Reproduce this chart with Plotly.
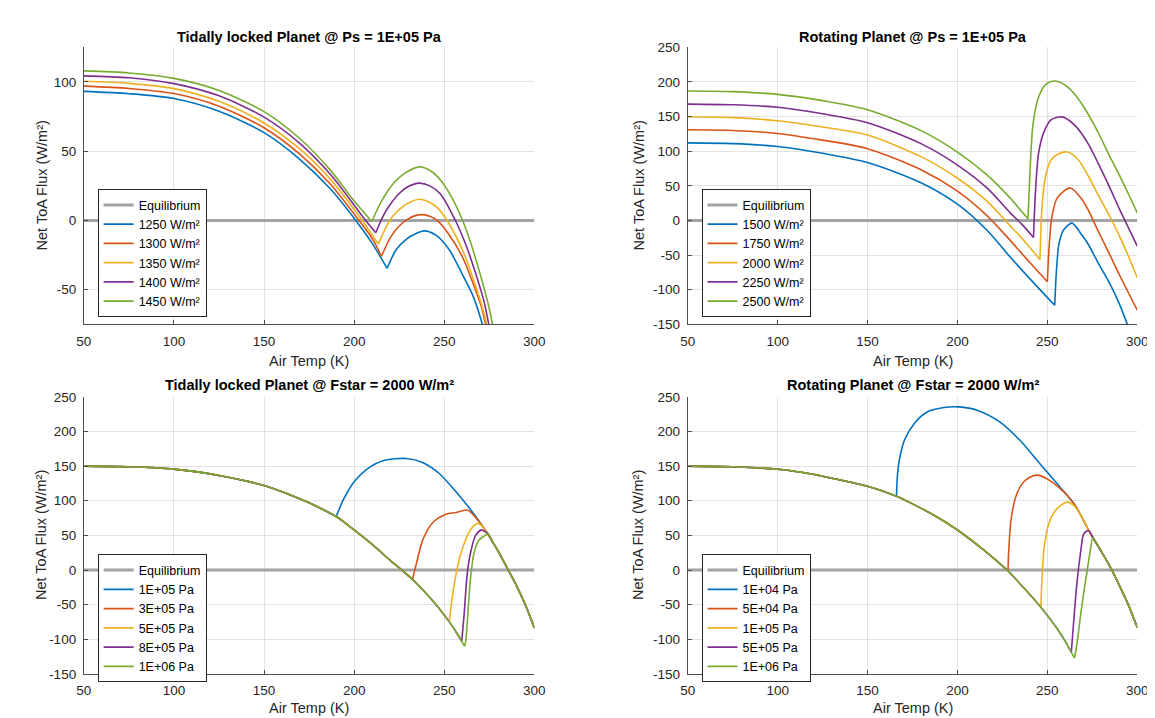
import plotly.graph_objects as go

# ---------------- data ----------------
x_tick_vals = [50, 100, 150, 200, 250, 300]
x_tick_text = ["50", "100", "150", "200", "250", "300"]
y_tick_vals_tl = [-50, 0, 50, 100]
y_tick_text_tl = ["-50", "0", "50", "100"]
y_tick_vals = [-150, -100, -50, 0, 50, 100, 150, 200, 250]
y_tick_text = ["-150", "-100", "-50", "0", "50", "100", "150", "200", "250"]

equilibrium_T = [50, 300]
equilibrium_F = [0, 0]

# --- Tidally locked planet @ Ps = 1E+05 Pa (top-left) ---
tl_names = ["1250 W/m²", "1300 W/m²", "1350 W/m²", "1400 W/m²", "1450 W/m²"]
tl_1250_T = [50, 75, 100, 125, 150, 170, 187, 200.9, 210, 218.3, 223.4, 228.9, 234.4, 238.9, 245.4, 252.7, 260, 265.5, 270.5, 273]
tl_1250_F = [93.2, 91.5, 88, 78.8, 63.4, 44, 22.5, 0, -16.5, -34.5, -21, -13.6, -9.4, -7.5, -10.6, -21, -38.7, -53, -72, -85]
tl_1300_T = [50, 75, 100, 125, 150, 170, 187, 202.7, 210, 215.2, 220, 225, 230, 234, 237.9, 242, 246.1, 252, 260, 267, 271, 274]
tl_1300_F = [97, 95.3, 91.6, 82.5, 66.9, 47.7, 26, 0, -13, -25.8, -12.5, -4, 1.2, 3.5, 4.2, 3, 0, -9, -26, -49, -64, -82]
tl_1350_T = [50, 75, 100, 125, 150, 170, 187, 204.5, 213.4, 218, 222, 227, 231.5, 236.1, 242, 246, 251.6, 260, 267, 272, 275]
tl_1350_F = [100.5, 99, 95.2, 86, 70.4, 51.5, 29.5, 0, -17.1, -4, 4, 10, 13.5, 15.3, 13, 9.5, 0, -21, -45.5, -66.8, -84]
tl_1400_T = [50, 75, 100, 125, 150, 170, 187, 206.4, 212, 216, 220, 225, 230, 236.1, 242, 248, 256.2, 262, 267, 272, 276]
tl_1400_F = [104.4, 103, 98.8, 90, 74.6, 55.5, 33, 0, -8.9, 3, 11.5, 19.5, 24.5, 27, 25, 19, 0, -17.5, -36.4, -58, -84]
tl_1450_T = [50, 75, 100, 125, 150, 170, 187, 200, 209.8, 214, 218, 222, 228, 236.1, 243, 248, 254, 260.2, 264, 268, 272, 275, 277.5]
tl_1450_F = [108, 106.5, 102.6, 93.9, 78.6, 59, 36, 14, -0.7, 11, 20, 27, 34, 38.7, 35.4, 29, 17, 0, -13.3, -30, -48.4, -63.5, -80]

# --- Rotating planet @ Ps = 1E+05 Pa (top-right) ---
tr_names = ["1500 W/m²", "1750 W/m²", "2000 W/m²", "2250 W/m²", "2500 W/m²"]
tr_1500_T = [50, 75, 100, 125, 150, 180, 200, 216.4, 229.1, 242, 254.1, 255, 256.5, 259.2, 263.7, 269.2, 272.9, 278, 284.3, 290, 294.5, 296]
tr_1500_F = [112, 111, 106.9, 97, 83.8, 54.1, 23.5, -14, -52, -89, -122.4, -75, -33, -13, -3.8, -21, -35, -60, -89, -120, -150, -160]
tr_1750_T = [50, 75, 100, 125, 150, 180, 200, 216.4, 229.1, 240, 250, 251, 252.5, 255.6, 262.8, 269.2, 272.9, 278, 284.3, 290, 300]
tr_1750_F = [131, 130, 125.7, 116, 103.6, 72.9, 42.4, 7, -28, -60, -88.5, -37.6, 4.7, 33, 47, 30.6, 14.1, -14, -47, -78, -129.4]
tr_2000_T = [50, 75, 100, 125, 150, 180, 200, 216.4, 229.1, 238, 245.9, 247, 248.8, 251.9, 256, 261.4, 267.4, 272.9, 278, 285.9, 292, 300]
tr_2000_F = [149.7, 148.5, 144, 135, 123.3, 91.8, 61, 28, -7, -32, -56.5, 18.8, 61, 87, 96, 98.8, 87, 63.5, 38, 0, -33, -82.4]
tr_2250_T = [50, 75, 100, 125, 150, 180, 200, 216.4, 229.1, 236, 242.3, 243.4, 245.2, 248.3, 251.9, 258.3, 265.6, 272.9, 278, 284.3, 290, 295, 300]
tr_2250_F = [168, 167, 163.4, 154, 141.2, 110.6, 80, 47, 11.8, -6, -24.5, 42, 98.8, 129, 145, 149.6, 136.5, 110, 84, 50, 17, -10, -37]
tr_2500_T = [50, 75, 100, 125, 150, 180, 200, 216.4, 229.1, 239.2, 240.1, 241.9, 244.6, 248.3, 251, 254.6, 260.1, 265, 270, 275, 280, 285, 290, 295, 300]
tr_2500_F = [186.9, 186, 182, 173, 160, 129.4, 98.8, 65.9, 33, 2.4, 56, 136, 174, 194, 199.5, 201.4, 195, 183, 165, 143, 118, 91, 66, 39, 11]

# --- Tidally locked planet @ Fstar = 2000 W/m2 (bottom-left) ---
bl_names = ["1E+05 Pa", "3E+05 Pa", "5E+05 Pa", "8E+05 Pa", "1E+06 Pa"]
bl_base_T = [50, 75, 100, 125, 150, 165, 175, 190, 200, 210, 220, 226.4, 232.4, 240, 246.4, 252.8, 256, 259.7, 261.3]
bl_base_F = [150, 149, 145.7, 136.5, 122, 108, 97, 77.2, 58, 37, 14, 0, -13.6, -34, -53, -74.8, -87, -103, -110]
bl_1e5_T = [190, 194.5, 200, 207.3, 216.4, 229, 238.3, 247.4, 256.5, 263.8, 269.2]
bl_1e5_F = [77.2, 104, 127.5, 146, 158, 161, 155, 139, 113, 90, 71]
bl_3e5_T = [232.4, 234.6, 238.3, 243.7, 251, 256.5, 262.8, 267.4, 272.9]
bl_3e5_F = [-13.6, 10, 45, 68.7, 80.5, 83, 86.6, 76, 57]
bl_5e5_T = [252.8, 254.6, 257.4, 260.1, 263.8, 266.5, 268.9, 272]
bl_5e5_F = [-74.8, -37, 5, 31, 54.6, 64, 67.3, 60.7]
bl_8e5_T = [259.7, 261, 262.8, 264.7, 267.4, 270.7, 272.9]
bl_8e5_F = [-103, -65.4, -4, 26, 50, 58, 55]
bl_1e6_T = [261.3, 261.9, 263.3, 264.7, 266.5, 269.2, 272]
bl_1e6_F = [-110, -103, -56, -9, 24, 43, 48.5]
bl_tail_T = [274.3, 277, 280, 285.5, 290, 295, 300]
bl_tail_F = [52, 40, 27, 0, -22, -50, -83.5]

# --- Rotating planet @ Fstar = 2000 W/m2 (bottom-right) ---
br_names = ["1E+04 Pa", "5E+04 Pa", "1E+05 Pa", "5E+05 Pa", "1E+06 Pa"]
br_base_T = [50, 75, 100, 114, 125, 150, 166.1, 175, 187, 200, 214.4, 228.1, 237, 246.4, 255, 260, 263.3, 265.1]
br_base_F = [150, 149, 145.5, 140.8, 135.5, 120.9, 106.6, 95.5, 79, 57.8, 29.4, -1.4, -26, -53.6, -83, -103, -119, -127]
br_1e4_T = [166.1, 166.6, 167.9, 170.6, 176.1, 183.4, 192.5, 200.7, 210.8, 223.5, 234.5, 245.4, 256.4, 265.5, 270.5]
br_1e4_F = [106.6, 136, 162, 188, 212, 228.4, 234.6, 235.5, 230.8, 214, 188, 155, 121.8, 93, 70]
br_5e4_T = [228.1, 228.6, 229.9, 232.7, 236.3, 240, 244.5, 250, 256.4, 261, 265.5, 270.5]
br_5e4_F = [-1.4, 31.8, 74.4, 107.6, 125.6, 133.6, 137, 131.3, 119.4, 108, 93, 70]
br_1e5_T = [246.4, 246.9, 248.2, 250.9, 254.6, 261, 265.5, 270.5]
br_1e5_F = [-53.6, -20, 31.8, 67.3, 86.3, 98, 91, 70]
br_5e5_T = [263.3, 264, 266.4, 268.8, 270, 271.9]
br_5e5_F = [-119, -96, -20, 31.8, 50.7, 56.4]
br_1e6_T = [265.1, 266.5, 268.5, 270.5, 272.5, 274, 275.3]
br_1e6_F = [-127, -106, -65, -28, 5, 30, 46]
br_tail_T = [273, 275.3, 280, 285.9, 290, 295, 300]
br_tail_F = [57, 47, 27, 0, -22, -50, -83]

# ---------------- styling ----------------
COLORS = ["#0072BD", "#D95319", "#EDB120", "#7E2F8E", "#77AC30"]
EQ_COLOR = "#a3a3a3"
FONT = "Liberation Sans, Arial, sans-serif"
W, H = 1155, 718


def px_x(p):
    return p / W


def px_y(p):
    return 1 - p / H


def with_branch(base_T, base_F, br_T, br_F, tail_T, tail_F):
    T = [t for t in base_T if t < br_T[0]] + list(br_T)
    F = [f for t, f in zip(base_T, base_F) if t < br_T[0]] + list(br_F)
    T += [t for t in tail_T if t > br_T[-1]]
    F += [f for t, f in zip(tail_T, tail_F) if t > br_T[-1]]
    return T, F


def segmented(T, F):
    xs, ys = [], []
    for i in range(len(T)):
        xs.append(T[i]); ys.append(F[i])
        if 0 < i < len(T) - 1 and F[i] < F[i - 1] and F[i] < F[i + 1]:
            xs += [None, T[i]]; ys += [None, F[i]]
    return xs, ys


panels = [
    dict(ax="", leg="legend", names=tl_names,
         series=[(tl_1250_T, tl_1250_F), (tl_1300_T, tl_1300_F), (tl_1350_T, tl_1350_F),
                 (tl_1400_T, tl_1400_F), (tl_1450_T, tl_1450_F)]),
    dict(ax="2", leg="legend2", names=tr_names,
         series=[(tr_1500_T, tr_1500_F), (tr_1750_T, tr_1750_F), (tr_2000_T, tr_2000_F),
                 (tr_2250_T, tr_2250_F), (tr_2500_T, tr_2500_F)]),
    dict(ax="3", leg="legend3", names=bl_names,
         series=[with_branch(bl_base_T, bl_base_F, t, f, bl_tail_T, bl_tail_F) for t, f in
                 [(bl_1e5_T, bl_1e5_F), (bl_3e5_T, bl_3e5_F), (bl_5e5_T, bl_5e5_F),
                  (bl_8e5_T, bl_8e5_F), (bl_1e6_T, bl_1e6_F)]]),
    dict(ax="4", leg="legend4", names=br_names,
         series=[with_branch(br_base_T, br_base_F, t, f, br_tail_T, br_tail_F) for t, f in
                 [(br_1e4_T, br_1e4_F), (br_5e4_T, br_5e4_F), (br_1e5_T, br_1e5_F),
                  (br_5e5_T, br_5e5_F), (br_1e6_T, br_1e6_F)]]),
]

fig = go.Figure()
for p in panels:
    xa, ya = "x" + p["ax"], "y" + p["ax"]
    fig.add_trace(go.Scatter(x=equilibrium_T, y=equilibrium_F, mode="lines", name="Equilibrium",
                             line=dict(color=EQ_COLOR, width=3), xaxis=xa, yaxis=ya,
                             legend=p["leg"], hoverinfo="skip"))
    for (T, F), nm, c in zip(p["series"], p["names"], COLORS):
        xs, ys = segmented(T, F)
        fig.add_trace(go.Scatter(x=xs, y=ys, mode="lines", name=nm,
                                 line=dict(color=c, width=1.6, shape="spline", smoothing=0.8),
                                 connectgaps=False, xaxis=xa, yaxis=ya, legend=p["leg"]))

# axes geometry (pixels)
LEFT = (69, 527)
RIGHT = (683, 1140)
TOP = (33, 316)
BOTTOM = (390, 673)

axis_common = dict(showgrid=True, gridcolor="#e2e2e2", gridwidth=1, zeroline=False,
                   showline=True, linecolor="#4d4d4d", linewidth=1, ticks="inside",
                   ticklen=4, tickcolor="#4d4d4d", mirror=False,
                   tickfont=dict(family=FONT, size=13.5, color="#262626"))

geo = {"": (LEFT, TOP), "2": (RIGHT, TOP), "3": (LEFT, BOTTOM), "4": (RIGHT, BOTTOM)}
layout_axes = {}
for k, (hx, vy) in geo.items():
    layout_axes["xaxis" + k] = dict(axis_common, domain=[px_x(hx[0]), px_x(hx[1])], range=[50, 300],
                                    tickvals=x_tick_vals, ticktext=x_tick_text,
                                    anchor="y" + k, ticklabelstandoff=4)
    if k == "":
        yv, yt, yr = y_tick_vals_tl, y_tick_text_tl, [-75, 125]
    else:
        yv, yt, yr = y_tick_vals, y_tick_text, [-150, 250]
    layout_axes["yaxis" + k] = dict(axis_common, domain=[px_y(vy[1]), px_y(vy[0])], range=yr,
                                    tickvals=yv, ticktext=yt, anchor="x" + k, ticklabelstandoff=4)

fig.update_layout(**layout_axes)

legend_style = dict(bgcolor="white", bordercolor="#262626", borderwidth=1,
                    font=dict(family=FONT, size=12.5, color="#000000"),
                    xanchor="left", yanchor="top", tracegroupgap=0, itemclick=False,
                    itemdoubleclick=False)
fig.update_layout(
    legend=dict(legend_style, x=px_x(83), y=px_y(178)),
    legend2=dict(legend_style, x=px_x(697), y=px_y(178)),
    legend3=dict(legend_style, x=px_x(83), y=px_y(551)),
    legend4=dict(legend_style, x=px_x(697), y=px_y(551)),
)

titles = [
    ("<b>Tidally locked Planet @ Ps = 1E+05 Pa</b>", LEFT, 22),
    ("<b>Rotating Planet @ Ps = 1E+05 Pa</b>", RIGHT, 22),
    ("<b>Tidally locked Planet @ Fstar = 2000 W/m²</b>", LEFT, 378),
    ("<b>Rotating Planet @ Fstar = 2000 W/m²</b>", RIGHT, 378),
]
ann = []
for txt, hx, yp in titles:
    ann.append(dict(text=txt, x=px_x((hx[0] + hx[1]) / 2), y=px_y(yp), xref="paper", yref="paper",
                    showarrow=False, xanchor="center", yanchor="middle",
                    font=dict(family=FONT, size=14.5, color="#000000")))
for hx, yp in [(LEFT, 353), (RIGHT, 353), (LEFT, 708), (RIGHT, 708)]:
    ann.append(dict(text="Air Temp (K)", x=px_x((hx[0] + hx[1]) / 2), y=px_y(yp), xref="paper",
                    yref="paper", showarrow=False, xanchor="center", yanchor="middle",
                    font=dict(family=FONT, size=14.5, color="#262626")))
for xp, vy in [(26, TOP), (633, TOP), (26, BOTTOM), (633, BOTTOM)]:
    ann.append(dict(text="Net ToA Flux (W/m²)", x=px_x(xp), y=px_y((vy[0] + vy[1]) / 2),
                    xref="paper", yref="paper", showarrow=False, textangle=-90,
                    xanchor="center", yanchor="middle",
                    font=dict(family=FONT, size=14.5, color="#262626")))

fig.update_layout(annotations=ann, width=W, height=H, margin=dict(l=0, r=0, t=0, b=0),
                  paper_bgcolor="white", plot_bgcolor="white", showlegend=True,
                  font=dict(family=FONT, size=13))

fig.write_html("out.html")
